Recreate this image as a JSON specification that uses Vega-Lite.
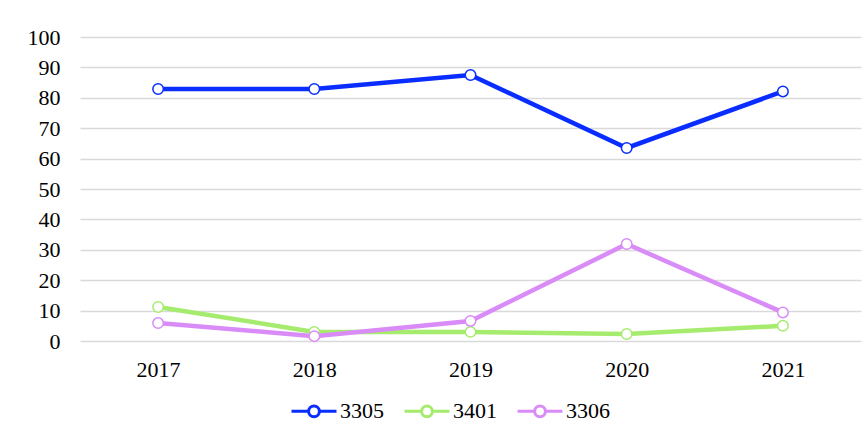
{
  "$schema": "https://vega.github.io/schema/vega-lite/v6.json",
  "width": 781,
  "height": 304,
  "autosize": {"type": "none"},
  "padding": {"left": 80, "top": 37, "right": 7, "bottom": 99},
  "background": "white",
  "config": {
    "view": {"stroke": null},
    "font": "Liberation Serif"
  },
  "data": {
    "values": [
      {"year": "2017", "series": "3305", "value": 82.9},
      {"year": "2018", "series": "3305", "value": 82.9},
      {"year": "2019", "series": "3305", "value": 87.5},
      {"year": "2020", "series": "3305", "value": 63.5},
      {"year": "2021", "series": "3305", "value": 82.1},
      {"year": "2017", "series": "3401", "value": 11.2},
      {"year": "2018", "series": "3401", "value": 3.0},
      {"year": "2019", "series": "3401", "value": 3.0},
      {"year": "2020", "series": "3401", "value": 2.3},
      {"year": "2021", "series": "3401", "value": 5.0},
      {"year": "2017", "series": "3306", "value": 5.9},
      {"year": "2018", "series": "3306", "value": 1.6},
      {"year": "2019", "series": "3306", "value": 6.6},
      {"year": "2020", "series": "3306", "value": 31.9},
      {"year": "2021", "series": "3306", "value": 9.4}
    ]
  },
  "encoding": {
    "x": {
      "field": "year", "type": "ordinal",
      "scale": {"type": "point", "padding": 0.5},
      "axis": {
        "title": null, "labelAngle": 0, "domain": false, "ticks": false,
        "labelFont": "Liberation Serif", "labelFontSize": 22, "labelColor": "#000",
        "labelPadding": 18
      }
    },
    "y": {
      "field": "value", "type": "quantitative",
      "scale": {"domain": [0, 100], "nice": false},
      "axis": {
        "title": null, "values": [0,10,20,30,40,50,60,70,80,90,100],
        "domain": false, "ticks": false,
        "labelFont": "Liberation Serif", "labelFontSize": 22, "labelColor": "#000",
        "labelPadding": 20, "gridColor": "#d9d9d9", "gridWidth": 1.5
      }
    },
    "color": {
      "field": "series", "type": "nominal",
      "sort": ["3305", "3401", "3306"],
      "scale": {"domain": ["3305", "3401", "3306"], "range": ["#0a2dff", "#a5ec6e", "#d98cf7"]},
      "legend": {
        "title": null, "orient": "none", "direction": "horizontal",
        "legendX": 210, "legendY": 350,
        "symbolType": "M-1,0 L-0.24,0 M0.24,0 A0.24,0.24 0 1,1 -0.24,0 A0.24,0.24 0 1,1 0.24,0 M0.24,0 L1,0",
        "symbolSize": 2025, "symbolFillColor": "white", "symbolStrokeWidth": 3,
        "labelFont": "Liberation Serif", "labelFontSize": 22, "labelColor": "#000",
        "labelOffset": 2, "columnPadding": 14
      }
    }
  },
  "layer": [
    {"mark": {"type": "line", "strokeWidth": 4.5}},
    {"mark": {"type": "point", "shape": "circle", "filled": false, "fill": "white", "fillOpacity": 1, "strokeWidth": 1.5, "size": 110, "opacity": 1}}
  ]
}
